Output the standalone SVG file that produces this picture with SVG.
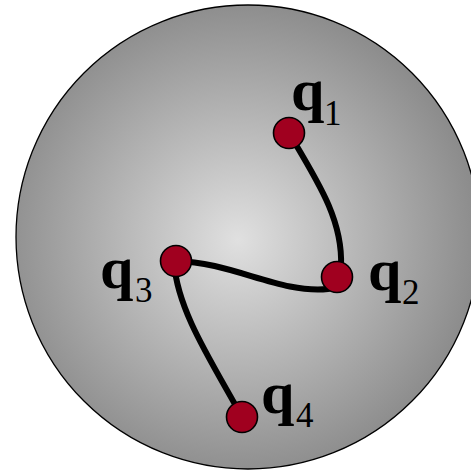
<svg xmlns="http://www.w3.org/2000/svg" width="471" height="471" viewBox="0 0 471 471">
<defs>
<radialGradient id="g" gradientUnits="userSpaceOnUse" cx="238" cy="240" r="240">
<stop offset="0" stop-color="#e0e0e0"/>
<stop offset="1" stop-color="#8c8c8c"/>
</radialGradient>
<style>
.n{fill:#a0001f;stroke:#000;stroke-width:1.6}
.e{fill:none;stroke:#000;stroke-width:6;stroke-linecap:round}
.q{font-family:"Liberation Serif","Times New Roman",serif;font-weight:bold;font-size:60px;fill:#000}
.s{font-family:"Liberation Serif","Times New Roman",serif;font-size:35px;fill:#000}
</style>
</defs>
<ellipse cx="248" cy="237" rx="232" ry="232" fill="url(#g)" stroke="#000" stroke-width="1.3"/>
<g id="connectors">
<path class="e" d="M289,133 C318,182 343,220 341,266"/>
<path class="e" d="M176,261 C232,262 280,294 328,289"/>
<path class="e" d="M174,263 C178,312 212,362 242,417"/>
</g>
<g id="q1"><circle class="n" cx="289" cy="133" r="15.5"/><text class="q" x="291" y="110">q</text><text class="s" x="324" y="125">1</text></g>
<g id="q2"><circle class="n" cx="337" cy="277" r="15.5"/><text class="q" x="368" y="290">q</text><text class="s" x="402" y="304">2</text></g>
<g id="q3"><circle class="n" cx="176" cy="261" r="15.5"/><text class="q" x="100" y="288">q</text><text class="s" x="135" y="302">3</text></g>
<g id="q4"><circle class="n" cx="242" cy="417" r="15.5"/><text class="q" x="261" y="413">q</text><text class="s" x="296" y="427">4</text></g>
</svg>
